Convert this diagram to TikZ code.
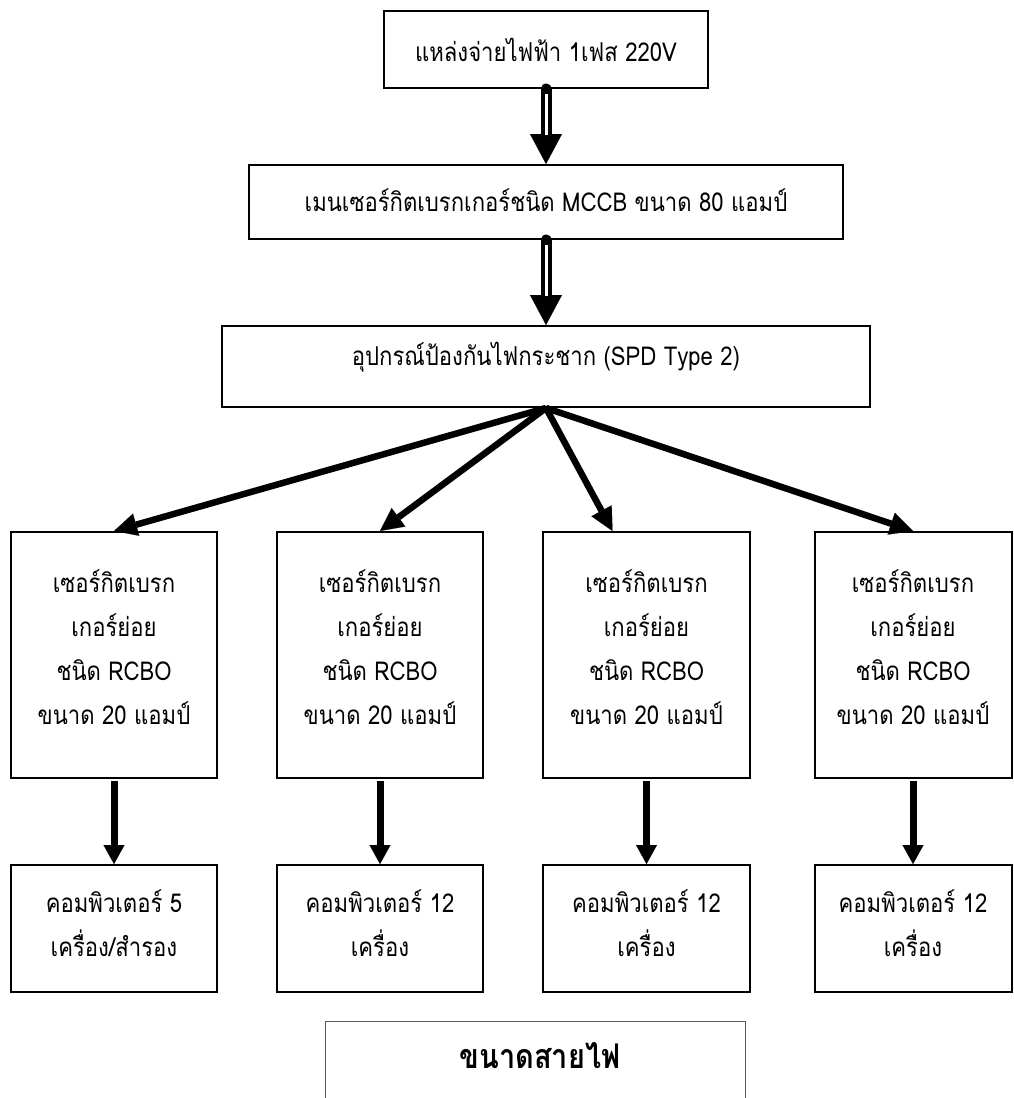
\documentclass[tikz,border=0pt]{standalone}
\usepackage{fontspec}
\setmainfont{Loma}[Script=Thai, FakeStretch=0.85]
\usetikzlibrary{arrows.meta,calc}
\begin{document}
\begin{tikzpicture}[x=1pt,y=-1pt,
  box/.style={draw, line width=2pt, rectangle, inner sep=0pt},
  txt/.style={align=center, inner sep=0pt, font=\fontsize{26}{44}\selectfont},
  fan/.style={line width=6.5pt, -{Triangle[length=23pt,width=23pt,line width=0.1pt]}},
  drop/.style={line width=7pt, shorten <=2pt, -{Triangle[length=19pt,width=21pt,line width=0.1pt]}},
  feedouter/.style={line width=11pt, line cap=round, -{Triangle[length=30pt,width=32pt,line width=0.1pt]}},
  feedinner/.style={white, line width=3pt, shorten <=5pt, shorten >=29pt},
  wirebox/.style={draw=black!65, line width=1pt, rectangle, inner sep=0pt},
]
\useasboundingbox (0,0) rectangle (1013,1098);

% supply chain
\node[box, minimum width=324pt, minimum height=77pt] (src) at (546,49.5) {};
\node[txt] (srctext) at (src.center) {แหล่งจ่ายไฟฟ้า 1เฟส 220V};
\node[box, minimum width=594pt, minimum height=74pt] (mcb) at (546,202) {};
\node[txt] (mcbtext) at ([yshift=2pt]mcb.center) {เมนเซอร์กิตเบรกเกอร์ชนิด MCCB ขนาด 80 แอมป์};
\node[box, minimum width=648pt, minimum height=81pt] (spd) at (546,366.5) {};
\node[txt] (spdtext) at ([yshift=9pt]spd.center) {อุปกรณ์ป้องกันไฟกระชาก (SPD Type 2)};

% branch breakers
\foreach \i/\x/\w in {1/114/206, 2/380/206, 3/646.5/207, 4/913/197}{
  \node[box, minimum width=\w pt, minimum height=246pt] (br\i) at (\x,655) {};
  \node[txt] (br\i text) at ([yshift=8pt]br\i.center)
    {เซอร์กิตเบรก\\เกอร์ย่อย\\ชนิด RCBO\\ขนาด 20 แอมป์};
}

% loads
\foreach \i/\x/\w in {1/114/206, 2/380/206, 3/646.5/207, 4/913/197}{
  \node[box, minimum width=\w pt, minimum height=127pt] (cp\i) at (\x,928.5) {};
}
\node[txt] (cp1text) at ([yshift=5pt]cp1.center) {คอมพิวเตอร์ 5\\เครื่อง/สำรอง};
\node[txt] (cp2text) at ([yshift=5pt]cp2.center) {คอมพิวเตอร์ 12\\เครื่อง};
\node[txt] (cp3text) at ([yshift=5pt]cp3.center) {คอมพิวเตอร์ 12\\เครื่อง};
\node[txt] (cp4text) at ([yshift=5pt]cp4.center) {คอมพิวเตอร์ 12\\เครื่อง};

% cable size table
\node[wirebox, minimum width=420pt, minimum height=110pt] (wire) at (535,1076) {};
\node[font=\fontsize{34}{40}\selectfont\bfseries] (wiretitle) at (540,1056) {ขนาดสายไฟ};

% double feeders
\draw[feedouter] (src.south) -- (mcb.north);
\draw[feedinner] (src.south) -- (mcb.north);
\draw[feedouter] (mcb.south) -- (spd.north);
\draw[feedinner] (mcb.south) -- (spd.north);

% distribution to branches
\draw[fan] (spd.south) -- (br1.north);
\draw[fan] (spd.south) -- (br2.north);
\draw[fan] (spd.south) -- ([xshift=-34pt]br3.north);
\draw[fan] (spd.south) -- (br4.north);

% branches to loads
\foreach \i in {1,...,4}{
  \draw[drop] (br\i.south) -- (cp\i.north);
}
\end{tikzpicture}
\end{document}
